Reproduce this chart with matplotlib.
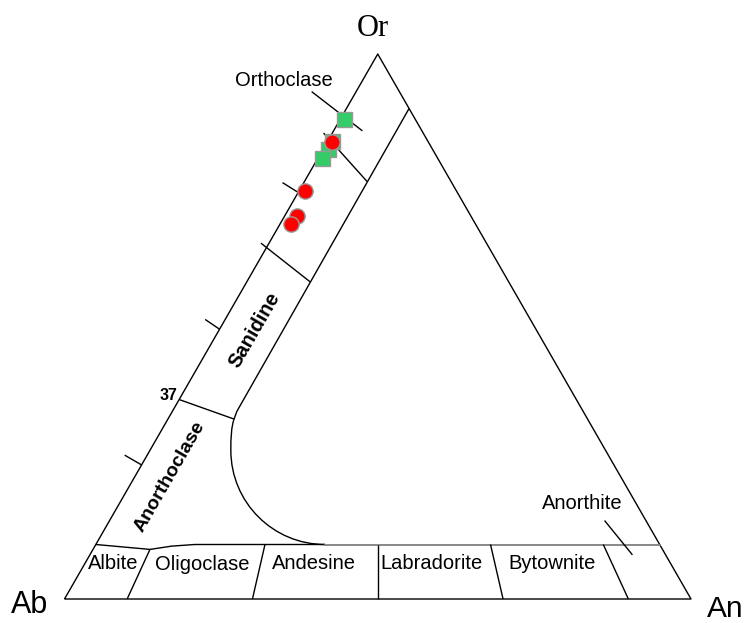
import numpy as np
import matplotlib.pyplot as plt
from matplotlib.path import Path
from matplotlib.patches import PathPatch

# sample compositions, mol % (Or, An; Ab is the rest)
square_or = [88.0, 84.1, 82.6, 80.9]
square_an = [0.6, 0.7, 0.75, 0.7]
circle_or = [83.9, 74.9, 70.3, 68.8]
circle_an = [0.8, 0.9, 1.9, 1.7]

# field boundaries as (An, Or) pairs in %
alkali_inner = [(10.0, 90.0), (10.3, 34.4), (10.6, 32.8)]
# bezier: start, quad ctrl, end, cubic ctrl, ctrl, end
solvus_curve = [(10.6, 32.8), (11.0, 31.0), (12.9, 27.3),
                (17.7, 17.7), (28.3, 10.0), (36.6, 10.0)]
plag_top_left = [(0.0, 10.0), (9.1, 9.1), (12.25, 9.7), (15.8, 10.0), (36.6, 10.0)]
plag_top_right = [(36.6, 10.0), (90.0, 10.0)]
plag_div_an = [10, 30, 50, 70, 90]
plag_div_top_or = [9.1, 10, 10, 10, 10]
tie_lines = [
    [(-7.1, 93.1), (4.6, 85.9)],
    [(-1.4, 85.5), (10.0, 76.6)],
    [(-3.4, 76.4), (0.0, 74.6)],
    [(-1.3, 65.3), (10.1, 58.2)],
    [(-3.2, 51.3), (0.0, 49.5)],
    [(0.0, 36.6), (10.6, 33.0)],
    [(-3.6, 26.4), (0.0, 24.6)],
]
anorthite_leader = [(79.0, 14.4), (86.6, 8.1)]

H = np.sqrt(3) / 2


def tern(an, orr):
    an = np.asarray(an, dtype=float) / 100.0
    orr = np.asarray(orr, dtype=float) / 100.0
    return an + orr / 2, orr * H


def draw_pairs(ax, pairs, **kw):
    an, orr = zip(*pairs)
    x, y = tern(an, orr)
    ax.plot(x, y, **kw)


fig = plt.figure(figsize=(7.47, 6.23), dpi=100)
ax = fig.add_axes([0, 0, 1, 1])
ax.set_xlim(-64.5 / 626.5, 682.5 / 626.5)
ax.set_ylim(-24 / 629.3, 599 / 629.3)
ax.axis('off')

line = dict(color='black', lw=1.0, solid_capstyle='butt')

# outer triangle
draw_pairs(ax, [(0, 0), (100, 0), (0, 100), (0, 0)], **line)

# alkali feldspar band
draw_pairs(ax, alkali_inner, **line)
cx, cy = tern(*zip(*solvus_curve))
verts = list(zip(cx, cy))
codes = [Path.MOVETO, Path.CURVE3, Path.CURVE3, Path.CURVE4, Path.CURVE4, Path.CURVE4]
ax.add_patch(PathPatch(Path(verts, codes), fill=False, edgecolor='black', lw=1.0))

# plagioclase band
draw_pairs(ax, plag_top_left, **line)
draw_pairs(ax, plag_top_right, color='#7f7f7f', lw=1.3)
for an, top in zip(plag_div_an, plag_div_top_or):
    draw_pairs(ax, [(an, 0), (an * (100 - top) / 100, top)], **line)

for seg in tie_lines:
    draw_pairs(ax, seg, **line)
draw_pairs(ax, anorthite_leader, **line)

# samples
sx, sy = tern(square_an, square_or)
ax.plot(sx, sy, 's', ms=10.8, mfc='#33cc66', mec='#999999', mew=1.0, zorder=5)
px, py = tern(circle_an, circle_or)
ax.plot(px, py, 'o', ms=11, mfc='#ff0000', mec='#999999', mew=1.0, zorder=6)

# labels
sans = 'Liberation Sans'
lab = dict(fontsize=14.5, family=sans, ha='center', va='center')
for name, an, orr in [('Albite', 4.5, 6.5), ('Oligoclase', 18.8, 6.4),
                      ('Andesine', 36.6, 6.5), ('Labradorite', 55.4, 6.5),
                      ('Bytownite', 74.5, 6.5), ('Anorthite', 73.8, 17.6),
                      ('Orthoclase', -12.6, 95.1)]:
    ax.text(*tern(an, orr), name, **lab)

ax.text(*tern(5.7, 49.4), 'Sanidine', fontsize=14.5, family=sans, weight='bold',
        rotation=60, ha='center', va='center')
ax.text(*tern(5.6, 22.4), 'Anorthoclase', fontsize=14, family=sans, weight='bold',
        rotation=60, ha='center', va='center')
ax.text(*tern(-2.1, 37.3), '37', fontsize=11.5, family=sans, weight='bold',
        ha='center', va='center')

ax.text(*tern(-3.1, 104.7), 'Or', fontsize=22, family='Liberation Serif',
        ha='center', va='center')
ax.text(*tern(-5.0, -1.1), 'Ab', fontsize=22, family=sans, ha='center', va='center')
ax.text(*tern(106.3, -1.8), 'An', fontsize=21.5, family=sans, ha='center', va='center')

fig.savefig('out.png', dpi=100)
plt.close(fig)
